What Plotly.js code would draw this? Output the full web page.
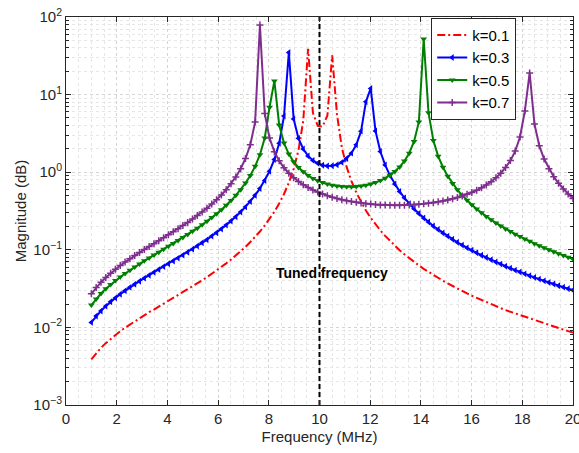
<!DOCTYPE html>
<html>
<head>
<meta charset="utf-8">
<script src="https://cdn.plot.ly/plotly-3.0.1.min.js"></script>
<style>html,body{margin:0;padding:0;background:#fff;}#chart{width:579px;height:453px;}</style>
</head>
<body>
<div id="chart"></div>
<script>
// Frequency samples (MHz)
const freq = [1.00,1.19,1.38,1.57,1.76,1.95,2.14,2.33,2.52,2.71,2.90,3.09,3.28,3.47,3.66,3.85,4.04,4.23,4.42,4.61,4.80,4.99,5.18,5.37,5.56,5.75,5.94,6.13,6.32,6.51,6.70,6.89,7.08,7.27,7.46,7.65,7.84,8.03,8.22,8.41,8.60,8.79,8.98,9.17,9.36,9.55,9.74,9.93,10.12,10.31,10.50,10.69,10.88,11.07,11.26,11.45,11.64,11.83,12.02,12.21,12.40,12.59,12.78,12.97,13.16,13.35,13.54,13.73,13.92,14.11,14.30,14.49,14.68,14.87,15.06,15.25,15.44,15.63,15.82,16.01,16.20,16.39,16.58,16.77,16.96,17.15,17.34,17.53,17.72,17.91,18.10,18.29,18.48,18.67,18.86,19.05,19.24,19.43,19.62,19.81,20.00];

const magK01 = [0.00388,0.00465,0.00545,0.00627,0.00712,0.00801,0.00893,0.00990,0.0109,0.0120,
0.0131,0.0144,0.0157,0.0170,0.0185,0.0202,0.0219,0.0239,0.0260,0.0283,
0.0308,0.0337,0.0368,0.0404,0.0444,0.0489,0.0541,0.0600,0.0669,0.0749,
0.0844,0.0957,0.109,0.126,0.146,0.172,0.206,0.250,0.310,0.396,
0.524,0.731,1.10,1.91,4.63,39,5.81,3.96,3.88,5.34,
32,5.55,2.09,1.17,0.768,0.547,0.411,0.321,0.258,0.212,
0.178,0.151,0.130,0.113,0.0989,0.0875,0.0779,0.0698,0.0629,0.0569,
0.0518,0.0473,0.0433,0.0399,0.0368,0.0340,0.0316,0.0294,0.0274,0.0256,
0.0240,0.0225,0.0211,0.0199,0.0187,0.0177,0.0167,0.0159,0.0150,0.0143,
0.0136,0.0129,0.0123,0.0117,0.0112,0.0107,0.0102,0.00977,0.00935,0.00896,
0.00860];

const magK03 = [0.0116,0.0140,0.0163,0.0188,0.0214,0.0240,0.0268,0.0297,0.0328,0.0360,
0.0394,0.0431,0.0470,0.0512,0.0557,0.0607,0.0660,0.0718,0.0782,0.0853,
0.0931,0.102,0.112,0.123,0.135,0.150,0.166,0.185,0.208,0.235,
0.267,0.307,0.357,0.420,0.504,0.618,0.781,1.03,1.46,2.36,
5.28,35,4.86,2.73,1.99,1.62,1.42,1.30,1.23,1.20,
1.21,1.25,1.34,1.50,1.76,2.25,3.38,8.09,12,3.40,
1.85,1.24,0.905,0.702,0.565,0.467,0.394,0.338,0.293,0.257,
0.228,0.203,0.183,0.165,0.150,0.137,0.125,0.115,0.106,0.0985,
0.0915,0.0852,0.0795,0.0743,0.0696,0.0654,0.0615,0.0580,0.0547,0.0517,
0.0490,0.0464,0.0441,0.0419,0.0398,0.0379,0.0362,0.0345,0.0330,0.0315,
0.0302];

const magK05 = [0.0194,0.0233,0.0273,0.0314,0.0356,0.0401,0.0447,0.0495,0.0547,0.0601,
0.0658,0.0720,0.0785,0.0856,0.0933,0.102,0.111,0.121,0.132,0.144,
0.158,0.173,0.190,0.210,0.233,0.260,0.291,0.329,0.374,0.431,
0.503,0.596,0.724,0.906,1.19,1.68,2.76,6.87,15,4.06,
2.37,1.71,1.36,1.15,1.01,0.906,0.832,0.777,0.735,0.703,
0.680,0.664,0.653,0.648,0.648,0.653,0.664,0.681,0.705,0.737,
0.780,0.837,0.913,1.02,1.17,1.39,1.76,2.49,4.45,52,
5.85,2.57,1.61,1.16,0.889,0.715,0.593,0.503,0.434,0.380,
0.336,0.300,0.269,0.244,0.222,0.203,0.186,0.172,0.159,0.148,
0.138,0.129,0.120,0.113,0.106,0.100,0.0944,0.0892,0.0844,0.0801,
0.0760];

const magK07 = [0.0271,0.0326,0.0382,0.0439,0.0499,0.0561,0.0626,0.0694,0.0766,0.0842,
0.0923,0.101,0.110,0.120,0.131,0.143,0.156,0.171,0.187,0.205,
0.225,0.249,0.276,0.307,0.344,0.388,0.442,0.509,0.595,0.710,
0.869,1.11,1.50,2.26,4.42,79,5.69,2.75,1.84,1.40,
1.14,0.971,0.850,0.760,0.690,0.635,0.591,0.555,0.524,0.499,
0.477,0.459,0.443,0.430,0.418,0.409,0.400,0.393,0.388,0.383,
0.379,0.377,0.375,0.375,0.375,0.376,0.378,0.381,0.385,0.391,
0.397,0.405,0.415,0.426,0.439,0.454,0.472,0.494,0.519,0.549,
0.585,0.630,0.685,0.755,0.846,0.970,1.15,1.41,1.87,2.84,
6.14,19,4.17,2.20,1.48,1.11,0.875,0.720,0.608,0.524,
0.459];

const seriesNames = ['k=0.1','k=0.3','k=0.5','k=0.7'];
const tunedFreq = 10;
const yTickVals = [0.001,0.01,0.1,1,10,100];
const yTickText = ['10<sup>−3</sup>','10<sup>−2</sup>','10<sup>−1</sup>','10<sup>0</sup>','10<sup>1</sup>','10<sup>2</sup>'];
const annotText = 'Tuned frequency';

const FONT = 'Liberation Sans, Arial, Helvetica, sans-serif';
const AX = '#262626';

const minorY = [];
for (let e = -3; e < 2; e++) for (let m = 2; m <= 9; m++) minorY.push(m * Math.pow(10, e));

const traces = [
  {x: freq, y: magK01, name: seriesNames[0], mode: 'lines',
   line: {color: '#FF0000', width: 2, dash: '8px,3px,2px,3px'}},
  {x: freq, y: magK03, name: seriesNames[1], mode: 'lines+markers',
   line: {color: '#0000FF', width: 2},
   marker: {symbol: 'triangle-left', size: 6, color: '#0000FF'}},
  {x: freq, y: magK05, name: seriesNames[2], mode: 'lines+markers',
   line: {color: '#008000', width: 2},
   marker: {symbol: 'triangle-down', size: 6, color: '#008000'}},
  {x: freq, y: magK07, name: seriesNames[3], mode: 'lines+markers',
   line: {color: '#7E2F8E', width: 2},
   marker: {symbol: 'cross-thin-open', size: 5, color: '#7E2F8E', line: {color: '#7E2F8E', width: 1.5}}},
  {x: [tunedFreq, tunedFreq], y: [yTickVals[0], yTickVals[yTickVals.length-1]], mode: 'lines',
   showlegend: false, hoverinfo: 'skip',
   line: {color: '#000000', width: 2, dash: '5px,3px'}}
];

const layout = {
  width: 579, height: 453,
  margin: {l: 66, r: 6, t: 17, b: 48},
  paper_bgcolor: '#ffffff', plot_bgcolor: '#ffffff',
  font: {family: FONT, size: 15, color: AX},
  showlegend: true,
  xaxis: {
    range: [0, 20], tick0: 0, dtick: 2,
    ticks: 'inside', ticklen: 5, tickcolor: AX,
    showline: true, linecolor: AX, linewidth: 1, mirror: 'ticks',
    showgrid: true, gridcolor: '#d4d4d4', griddash: 'dot', gridwidth: 1,
    zeroline: false, ticklabeloverflow: 'allow',
    tickfont: {family: FONT, size: 15, color: AX},
    title: {text: 'Frequency (MHz)', font: {family: FONT, size: 15, color: AX}, standoff: 5},
    minor: {dtick: 0.5, showgrid: true, gridcolor: '#e6e6e6', griddash: 'dot', ticks: ''}
  },
  yaxis: {
    type: 'log', range: [-3, 2],
    tickmode: 'array', tickvals: yTickVals, ticktext: yTickText,
    ticks: 'inside', ticklen: 5, tickcolor: AX,
    showline: true, linecolor: AX, linewidth: 1, mirror: 'ticks',
    showgrid: true, gridcolor: '#d4d4d4', griddash: 'dot', gridwidth: 1,
    zeroline: false,
    tickfont: {family: FONT, size: 15, color: AX},
    title: {text: 'Magnitude (dB)', font: {family: FONT, size: 15, color: AX}, standoff: 3},
    minor: {tickmode: 'array', tickvals: minorY, showgrid: true, gridcolor: '#e6e6e6', griddash: 'dot',
            ticks: 'inside', ticklen: 3, tickcolor: AX}
  },
  legend: {
    x: 0.888, xanchor: 'right', y: 0.998, yanchor: 'top',
    bgcolor: '#ffffff', bordercolor: AX, borderwidth: 1,
    font: {family: FONT, size: 15, color: '#000000'},
    itemwidth: 30, tracegroupgap: 0
  },
  annotations: [{
    x: 10.5, y: -1.3, xref: 'x', yref: 'y',
    text: '<b>' + annotText + '</b>', showarrow: false,
    font: {family: FONT, size: 14, color: '#000000'}
  }]
};

Plotly.newPlot('chart', traces, layout, {displayModeBar: false, staticPlot: true});
</script>
</body>
</html>
